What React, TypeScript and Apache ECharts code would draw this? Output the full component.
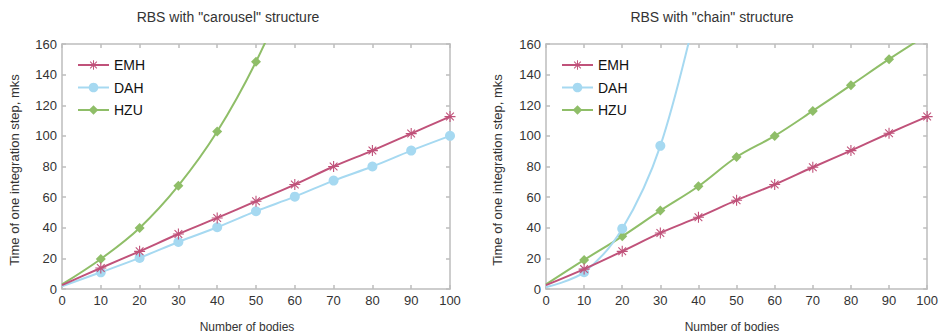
import React, { useEffect, useRef } from "react";
import * as echarts from "echarts";

const bodies = [0, 10, 20, 30, 40, 50, 60, 70, 80, 90, 100];

const carouselEMH = [2.5, 13.7, 24.6, 35.9, 46.4, 57.3, 68.2, 80, 90.4, 101.5, 112.6];
const carouselDAH = [1.8, 10.9, 20.3, 30.7, 40.3, 50.8, 60.3, 70.8, 80, 90.4, 100];
const carouselHZU = [3, 19.6, 39.9, 67.5, 102.8, 148.4, 205];

const chainEMH = [2.5, 13, 24.6, 36.6, 46.9, 58, 68.2, 79.5, 90.4, 101.7, 112.6];
const chainDAH = [1.2, 11, 39.4, 93.5, 188];
const chainHZU = [3, 19, 34.4, 51.2, 67.1, 86.2, 100, 116.3, 133.1, 150.1, 166];

const titles = ['RBS with "carousel" structure', 'RBS with "chain" structure'];
const seriesNames = ["EMH", "DAH", "HZU"];
const xName = "Number of bodies";
const yName = "Time of one integration step, mks";

const colors = { EMH: "#c0527a", DAH: "#a6d9f1", HZU: "#8fbe68" };

const asterisk =
  "path://M0,9L20,9L20,11L0,11Z M9,0L11,0L11,20L9,20Z M3.7,2.3L17.7,16.3L16.3,17.7L2.3,3.7Z M16.3,2.3L17.7,3.7L3.7,17.7L2.3,16.3Z";

const symbols: Record<string, { symbol: string; size: number }> = {
  EMH: { symbol: asterisk, size: 11 },
  DAH: { symbol: "circle", size: 10 },
  HZU: { symbol: "diamond", size: 10 },
};

function toData(ys: number[]) {
  return ys.map((y, i) => {
    const d: any = { value: [bodies[i], y] };
    if (i === 0 || y > 160) d.symbol = "none";
    return d;
  });
}

export default function App() {
  const ref = useRef<HTMLDivElement>(null);
  useEffect(() => {
    if (!ref.current) return;
    const chart = echarts.init(ref.current, null, { renderer: "svg" });
    const gridLefts = [62, 546];
    const gridW = 388;
    const gridTop = 44;
    const gridH = 245;
    const axisGray = "#bdbdbd";
    const labelStyle = { color: "#333", fontSize: 13, fontFamily: "Liberation Sans" };

    const xAxes: any[] = [];
    const yAxes: any[] = [];
    [0, 1].forEach((g) => {
      xAxes.push({
        type: "value", gridIndex: g, min: 0, max: 100, interval: 10, position: "bottom",
        axisLine: { show: true, lineStyle: { color: axisGray, width: 1.5 } },
        axisTick: { show: true, inside: true, length: 4, lineStyle: { color: axisGray, width: 1.5 } },
        axisLabel: { ...labelStyle, margin: 5 },
        splitLine: { show: false },
      });
      xAxes.push({
        type: "value", gridIndex: g, min: 0, max: 100, interval: 10, position: "top",
        axisLine: { show: true, onZero: false, lineStyle: { color: axisGray, width: 1.5 } },
        axisTick: { show: true, inside: true, length: 4, lineStyle: { color: axisGray, width: 1.5 } },
        axisLabel: { show: false },
        splitLine: { show: false },
      });
      yAxes.push({
        type: "value", gridIndex: g, min: 0, max: 160, interval: 20, position: "left",
        axisLine: { show: true, lineStyle: { color: axisGray, width: 1.5 } },
        axisTick: { show: true, inside: true, length: 4, lineStyle: { color: axisGray, width: 1.5 } },
        axisLabel: { ...labelStyle, margin: 5 },
        splitLine: { show: false },
      });
      yAxes.push({
        type: "value", gridIndex: g, min: 0, max: 160, interval: 20, position: "right",
        axisLine: { show: true, onZero: false, lineStyle: { color: axisGray, width: 1.5 } },
        axisTick: { show: true, inside: true, length: 4, lineStyle: { color: axisGray, width: 1.5 } },
        axisLabel: { show: false },
        splitLine: { show: false },
      });
    });

    const sets = [
      [carouselEMH, carouselDAH, carouselHZU],
      [chainEMH, chainDAH, chainHZU],
    ];
    const series: any[] = [];
    sets.forEach((set, g) => {
      set.forEach((ys, k) => {
        const name = seriesNames[k];
        series.push({
          type: "line",
          name,
          xAxisIndex: g * 2,
          yAxisIndex: g * 2,
          data: toData(ys),
          smooth: 0.35,
          clip: true,
          symbol: symbols[name].symbol,
          symbolSize: symbols[name].size,
          showSymbol: true,
          itemStyle: { color: (colors as any)[name] },
          lineStyle: { color: (colors as any)[name], width: 2 },
          z: 3 - k,
        });
      });
    });

    const graphics: any[] = [];
    const titleX = [228, 712];
    const xNameX = [247, 732];
    const yNameX = [14, 497];
    [0, 1].forEach((g) => {
      graphics.push({
        type: "text", x: titleX[g], y: 17,
        style: { text: titles[g], fontSize: 14, fontFamily: "Liberation Sans", fill: "#333", textAlign: "center", textVerticalAlign: "middle" },
      });
      graphics.push({
        type: "text", x: xNameX[g], y: 327,
        style: { text: xName, fontSize: 12, fontFamily: "Liberation Sans", fill: "#333", textAlign: "center", textVerticalAlign: "middle" },
      });
      graphics.push({
        type: "text", x: yNameX[g], y: 170, rotation: Math.PI / 2,
        style: { text: yName, fontSize: 13, fontFamily: "Liberation Sans", fill: "#333", textAlign: "center", textVerticalAlign: "middle" },
      });
    });

    chart.setOption({
      animation: false,
      backgroundColor: "#fff",
      grid: gridLefts.map((l) => ({ left: l, top: gridTop, width: gridW, height: gridH })),
      xAxis: xAxes,
      yAxis: yAxes,
      legend: gridLefts.map((l) => ({
        orient: "vertical",
        left: l + 15,
        top: 58,
        padding: 0,
        itemWidth: 31,
        itemHeight: 12,
        itemGap: 8.5,
        data: seriesNames,
        textStyle: { fontSize: 14, color: "#111", fontFamily: "Liberation Sans" },
        selectedMode: false,
      })),
      series,
      graphic: graphics,
    });
    return () => chart.dispose();
  }, []);
  return <div ref={ref} style={{ width: 941, height: 336, position: "absolute", left: 0, top: 0 }} />;
}
